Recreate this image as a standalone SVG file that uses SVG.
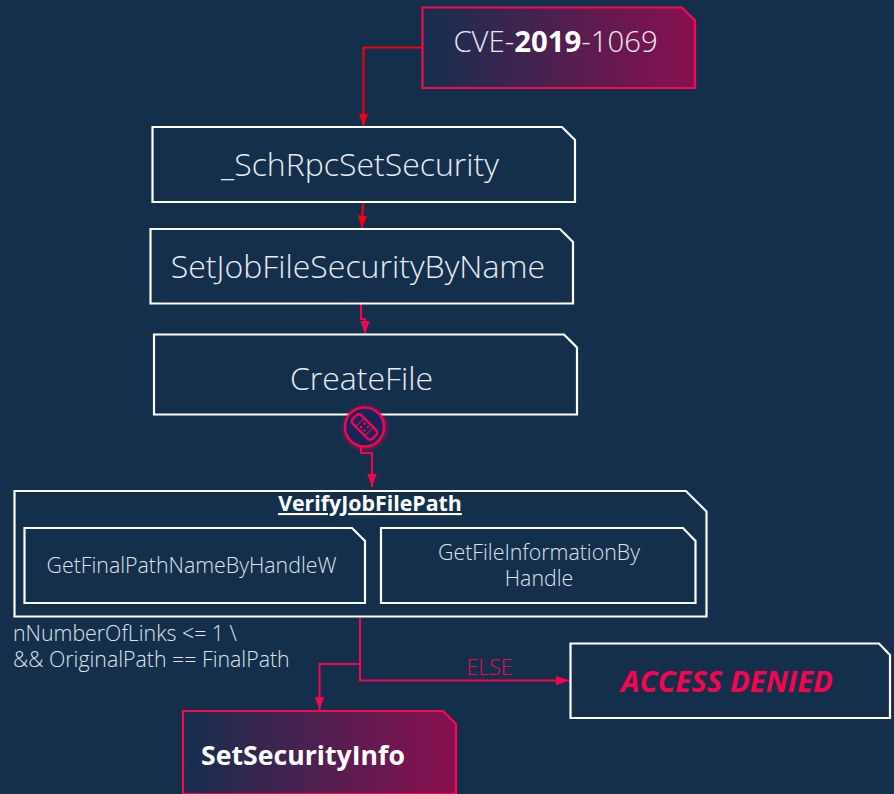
<svg xmlns="http://www.w3.org/2000/svg" width="894" height="794" viewBox="0 0 894 794">
<style>
text{font-family:"Open Sans","Noto Sans",sans-serif;}
.n{fill:#132f4c;stroke:#fff;stroke-width:2.200;}
.g{fill:url(#grad);stroke:#f50a4f;stroke-width:2.200;}
.t{fill:#e8ecf0;font-weight:300;text-anchor:middle;}
.s{fill:#dfe4ea;font-weight:300;text-anchor:middle;font-size:21.330px;}
.c{fill:none;stroke:#f5054f;stroke-width:2;}
.r{fill:none;stroke:#f50010;stroke-width:2;}
</style>
<defs>
<linearGradient id="grad" x1="0" y1="0" x2="1" y2="0"><stop offset="0" stop-color="#152f4f"/><stop offset="1" stop-color="#8a0f50"/></linearGradient>
<marker id="ar" markerWidth="14" markerHeight="14" refX="13" refY="6" orient="auto" markerUnits="userSpaceOnUse"><path d="M0 1.300L13 6L0 10.700z" fill="#f5054f"/></marker>
<marker id="ared" markerWidth="14" markerHeight="14" refX="13" refY="6" orient="auto" markerUnits="userSpaceOnUse"><path d="M0 1.300L13 6L0 10.700z" fill="#f50010"/></marker>
<filter id="glow" x="-40%" y="-40%" width="180%" height="180%"><feGaussianBlur stdDeviation="2.500"/></filter>
</defs>
<rect width="894" height="794" fill="#132f4c"/>
<g id="connectors">
<path class="r" marker-end="url(#ared)" d="M422 47.500H363.500V126.500"/>
<path class="r" marker-end="url(#ared)" d="M363 202L362 228.500"/>
<path class="c" marker-end="url(#ar)" d="M361 304V319H365V334"/>
<path class="c" marker-end="url(#ar)" d="M361 447V453H372V487"/>
<path class="c" marker-end="url(#ar)" d="M360 616V664H319.500V710"/>
<path class="c" marker-end="url(#ar)" d="M360 664V680.500H569"/>
</g>
<g id="cve"><path class="g" d="M422.500 7.500H682L695 20.500V88H422.500Z"/><text x="555.500" y="52" font-size="29.330" class="t"><tspan>CVE-</tspan><tspan font-weight="700" fill="#fff">2019</tspan><tspan>-1069</tspan></text></g>
<g id="schrpc"><path class="n" d="M152.500 127H562L575 140V202H152.500Z"/><text x="360" y="176" font-size="32" class="t">_SchRpcSetSecurity</text></g>
<g id="setjob"><path class="n" d="M150.500 229H560L573 242V303.500H150.500Z"/><text x="358" y="278" font-size="32" class="t">SetJobFileSecurityByName</text></g>
<g id="createfile"><path class="n" d="M154 334.500H564L577 347.500V414.500H154Z"/><text x="361.500" y="390" font-size="32" class="t">CreateFile</text></g>
<g id="patch">
<circle cx="365" cy="428" r="21" fill="#f5054f" opacity=".7" filter="url(#glow)"/>
<circle cx="364.500" cy="427" r="19.500" fill="#14265a" stroke="#f5054f" stroke-width="2.500"/>
<g transform="rotate(45 364.500 427)" fill="none" stroke="#f5054f"><rect x="350.500" y="421" width="28" height="12" rx="3.500" stroke-width="2.500"/><path d="M358 421V433M371 421V433" stroke-width="1.200"/></g>
<g fill="#f5054f"><circle cx="364.500" cy="423.500" r="1.300"/><circle cx="368" cy="427" r="1.300"/><circle cx="364.500" cy="430.500" r="1.300"/><circle cx="361" cy="427" r="1.300"/></g>
</g>
<g id="verify"><path class="n" d="M14.500 491H686L706.500 511.500V616.500H14.500Z"/><text x="370" y="511" font-size="21.330" font-weight="700" fill="#fff" text-anchor="middle" text-decoration="underline">VerifyJobFilePath</text></g>
<g id="getfinal"><path class="n" d="M24.500 528H352L365 541V603H24.500Z"/><text x="191.500" y="573" class="s">GetFinalPathNameByHandleW</text></g>
<g id="getinfo"><path class="n" d="M381 528H683L695.500 541V603H381Z"/><text class="s"><tspan x="539" y="560">GetFileInformationBy</tspan><tspan x="539" y="586">Handle</tspan></text></g>
<g id="cond"><text font-size="21.330" fill="#dfe4ea" font-weight="300"><tspan x="13" y="641">nNumberOfLinks &lt;= 1 \</tspan><tspan x="13" y="667">&amp;&amp; OriginalPath == FinalPath</tspan></text></g>
<text x="489.500" y="675" font-size="21.330" fill="#f5054f" font-weight="300" text-anchor="middle">ELSE</text>
<g id="denied"><path class="n" d="M570.500 643.500H879L890 655V718H570.500Z"/><text x="727" y="692" font-size="29.330" font-weight="700" font-style="italic" fill="#f5054f" text-anchor="middle">ACCESS DENIED</text></g>
<g id="setsec"><path class="g" d="M183 711H443L456 724V794H183Z"/><text x="303" y="765" font-size="26.670" font-weight="700" fill="#fff" text-anchor="middle">SetSecurityInfo</text></g>
</svg>
